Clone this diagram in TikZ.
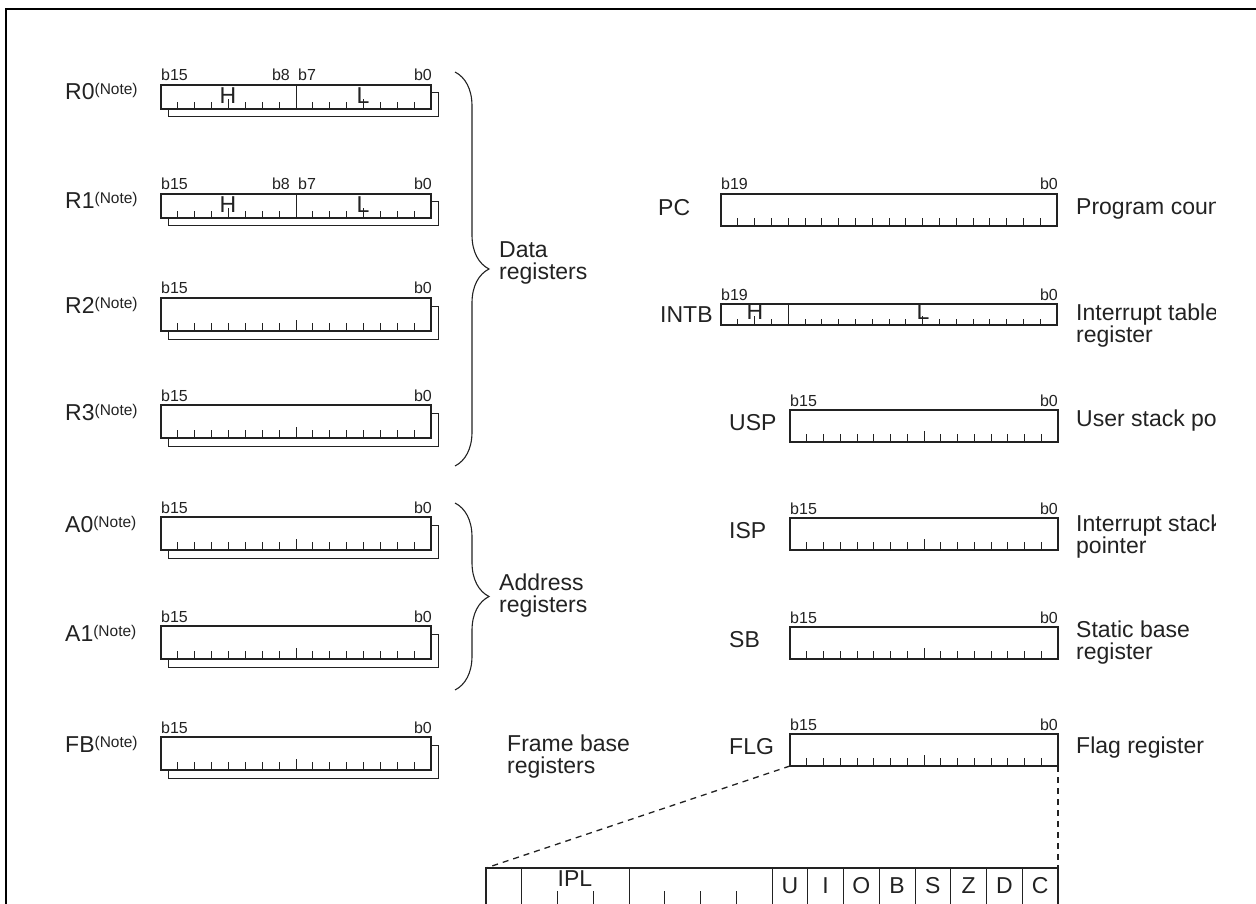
\documentclass[tikz,border=0pt]{standalone}
\usepackage{fontspec}
\setmainfont{Liberation Sans}
\usetikzlibrary{decorations.pathreplacing}
\definecolor{ink}{HTML}{222222}
\tikzset{
  regbox/.style={draw=ink, line width=1.1pt, inner sep=0pt, outer sep=0pt, anchor=north west},
  tick/.style={draw=ink, line width=1pt},
  bitlbl/.style={font=\fontsize{16}{18}\selectfont, text=ink, inner sep=0pt},
  fieldlbl/.style={font=\fontsize{23}{22}\selectfont, text=ink, inner sep=0pt},
  reglbl/.style={font=\fontsize{23}{22}\selectfont, text=ink, inner sep=0pt, anchor=base west},
  desc/.style={font=\fontsize{23}{22}\selectfont, text=ink, inner sep=0pt, anchor=west, align=left},
  regbrace/.style={decorate, decoration={brace, amplitude=34pt}, draw=ink, line width=1.1pt},
  zoomlink/.style={draw=ink, line width=1.3pt, dash pattern=on 6pt off 5pt},
}
\newcommand{\notemark}{\raisebox{5pt}{\fontsize{15.5}{16}\selectfont(Note)}}
\begin{document}
\begin{tikzpicture}[x=1pt, y=-1pt]
  \useasboundingbox (0,0) rectangle (1256,904);
  \clip (0,0) rectangle (1256,904);
  % outer frame
  \draw[line width=2.8pt] (6,930) |- (1280,9);

  % data registers with H and L halves
  \foreach \n/\t in {R0/85,R1/194} {
    \node[regbox, minimum width=270pt, minimum height=24pt] (\n) at (161,\t) {};
    \draw[tick] (\n.north east) ++(0,8) -- ++(7,0) |- ([shift={(7pt,-8pt)}]\n.south west) -- ++(0,-8);
    \draw[tick] ([xshift=135pt]\n.north west) -- ([xshift=135pt]\n.south west);
    \foreach \i in {1,...,15}
      \draw[tick] ([xshift=\i*16.875pt]\n.south west) -- ++(0,-7);
    \foreach \i in {4,12}
      \draw[tick] ([xshift=\i*16.875pt]\n.south west) -- ++(0,-10);
    \node[reglbl] (\n-name) at (65,\t+15) {\n\notemark};
    \node[bitlbl, anchor=base west] at (161,\t-4) {b15};
    \node[bitlbl, anchor=base east] at (290,\t-4) {b8};
    \node[bitlbl, anchor=base west] at (298,\t-4) {b7};
    \node[bitlbl, anchor=base east] at (432,\t-4) {b0};
    \node[fieldlbl] at (228,\t+11) {H};
    \node[fieldlbl] at (363,\t+11) {L};
  }

  % plain 16-bit registers on the left
  \foreach \n/\t in {R2/298,R3/405,A0/517,A1/626,FB/737} {
    \node[regbox, minimum width=270pt, minimum height=33pt] (\n) at (161,\t) {};
    \draw[tick] (\n.north east) ++(0,8) -- ++(7,0) |- ([shift={(7pt,-8pt)}]\n.south west) -- ++(0,-8);
    \foreach \i in {1,...,15}
      \draw[tick] ([xshift=\i*16.875pt]\n.south west) -- ++(0,-8);
    \draw[tick] ([xshift=135pt]\n.south west) -- ++(0,-11);
    \node[reglbl] (\n-name) at (65,\t+15) {\n\notemark};
    \node[bitlbl, anchor=base west] at (161,\t-4) {b15};
    \node[bitlbl, anchor=base east] at (432,\t-4) {b0};
  }

  % braces
  \draw[regbrace] (455,72) -- (455,466);
  \draw[regbrace] (455,503) -- (455,690);
  \node[desc] (data) at (499,263) {Data\\registers};
  \node[desc] (addr) at (499,596) {Address\\registers};
  \node[desc] (frame) at (507,757) {Frame base\\registers};

  % program counter
  \node[regbox, minimum width=336pt, minimum height=32pt] (PC) at (721,194) {};
  \foreach \i in {1,...,19}
    \draw[tick] ([xshift=\i*16.8pt]PC.south west) -- ++(0,-8);
  \node[reglbl] (PC-name) at (658,216) {PC};
  \node[bitlbl, anchor=base west] at (721,190) {b19};
  \node[bitlbl, anchor=base east] at (1058,190) {b0};

  % interrupt table register
  \node[regbox, minimum width=336pt, minimum height=21pt] (INTB) at (721,304) {};
  \draw[tick] ([xshift=67.2pt]INTB.north west) -- ([xshift=67.2pt]INTB.south west);
  \foreach \i in {1,...,19}
    \draw[tick] ([xshift=\i*16.8pt]INTB.south west) -- ++(0,-6);
  \foreach \i in {2,12}
    \draw[tick] ([xshift=\i*16.8pt]INTB.south west) -- ++(0,-9);
  \node[reglbl] (INTB-name) at (660,322) {INTB};
  \node[bitlbl, anchor=base west] at (721,300) {b19};
  \node[bitlbl, anchor=base east] at (1058,300) {b0};
  \node[fieldlbl] at (755,312) {H};
  \node[fieldlbl] at (923,312) {L};

  % 16-bit registers on the right
  \foreach \n/\t in {USP/410,ISP/518,SB/627,FLG/734} {
    \node[regbox, minimum width=268pt, minimum height=32pt] (\n) at (790,\t) {};
    \foreach \i in {1,...,15}
      \draw[tick] ([xshift=\i*16.75pt]\n.south west) -- ++(0,-8);
    \draw[tick] ([xshift=134pt]\n.south west) -- ++(0,-11);
    \node[reglbl] (\n-name) at (729,\t+20) {\n};
    \node[bitlbl, anchor=base west] at (790,\t-4) {b15};
    \node[bitlbl, anchor=base east] at (1058,\t-4) {b0};
  }

  % descriptions, cut at the right
  \begin{scope}
    \clip (0,0) rectangle (1215,904);
    \node[desc] (PC-desc) at (1076,209) {Program counter};
    \node[desc] (INTB-desc) at (1076,326) {Interrupt table\\register};
    \node[desc] (USP-desc) at (1076,421) {User stack pointer};
    \node[desc] (ISP-desc) at (1076,537) {Interrupt stack\\pointer};
    \node[desc] (SB-desc) at (1076,643) {Static base\\register};
    \node[desc] (FLG-desc) at (1076,748) {Flag register};
  \end{scope}

  % flag bits
  \node[regbox, minimum width=572pt, minimum height=70pt] (flags) at (486,868) {};
  \foreach \i in {1,4,8,9,10,11,12,13,14,15}
    \draw[tick] ([xshift=\i*35.75pt]flags.north west) -- ++(0,70);
  \foreach \i in {2,3,5,6,7}
    \draw[tick] ([xshift=\i*35.75pt]flags.north west) ++(0,23) -- ++(0,50);
  \node[fieldlbl] (ipl) at (575,879) {IPL};
  \foreach \f [count=\k from 8] in {U,I,O,B,S,Z,D,C}
    \node[fieldlbl] (flag-\f) at (486+\k*35.75+17.9,886) {\f};
  \draw[zoomlink] (FLG.south west) -- (flags.north west);
  \draw[zoomlink] (FLG.south east) -- (flags.north east);
\end{tikzpicture}
\end{document}
